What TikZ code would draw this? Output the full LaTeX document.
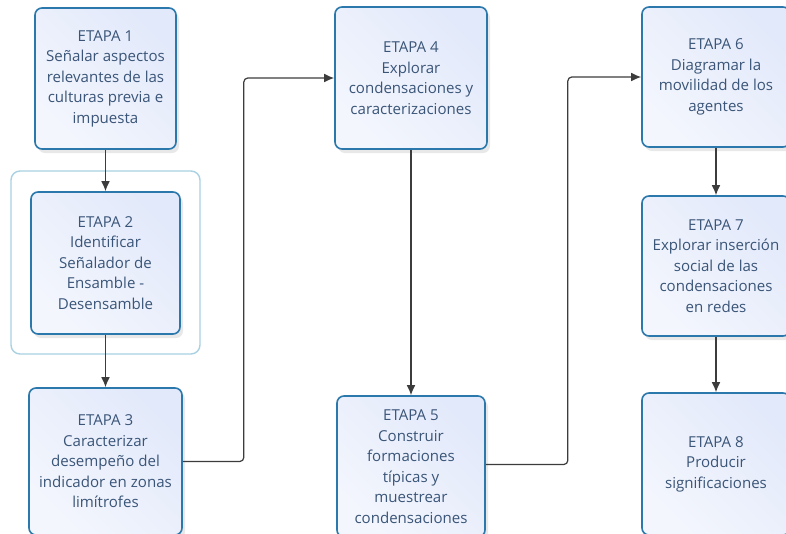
\documentclass[tikz,border=0pt]{standalone}
\usepackage{fontspec}
\setmainfont{Open Sans}
\usepackage{tikz}
\usetikzlibrary{arrows.meta}
\usetikzlibrary{shadows}
\usetikzlibrary{calc}

\newlength\px
\setlength\px{0.75pt}
\definecolor{boxline}{HTML}{2B79AC}
\definecolor{boxfill}{HTML}{E2E9FA}
\definecolor{boxtext}{HTML}{3A5578}
\definecolor{groupline}{HTML}{A9D1E2}
\definecolor{wire}{HTML}{3C3C3C}

\tikzset{
	etapa/.style={draw=boxline, line width=1.6\px, rounded corners=7\px, align=center,
		text=boxtext, font=\fontsize{11.3pt}{15.4pt}\selectfont,
		left color=white!60!boxfill, right color=boxfill, shading angle=135,
		drop shadow={opacity=0.18, shadow xshift=3\px, shadow yshift=-4\px}},
	conn/.style={draw=wire, line width=1.2\px, rounded corners=4\px, -{Latex[length=7.5pt, width=6.6pt]}}
}

\begin{document}
\begin{tikzpicture}[x=0.75pt, y=-0.75pt]
		\useasboundingbox (0,0) rectangle (786,533);
		\fill[white] (0,0) rectangle (786,533);
		
		\draw[groupline, line width=1.4\px, rounded corners=9\px] (11,171) rectangle (200,354);
		
		\node[etapa, minimum width=141\px, minimum height=141\px] (etapa1) at (105.5, 78.5) {ETAPA 1\\Señalar aspectos\\relevantes de las\\culturas previa e\\impuesta};
		\node[etapa, minimum width=149\px, minimum height=142\px] (etapa2) at (105.5, 263) {ETAPA 2\\Identificar\\Señalador de\\Ensamble -\\Desensamble};
		\node[etapa, minimum width=153\px, minimum height=147\px] (etapa3) at (105.5, 461.5) {ETAPA 3\\Caracterizar\\desempeño del\\indicador en zonas\\limítrofes};
		
		\node[etapa, minimum width=152\px, minimum height=142\px] (etapa4) at (411, 78) {ETAPA 4\\Explorar\\condensaciones y\\caracterizaciones};
		\node[etapa, minimum width=148\px, minimum height=141\px] (etapa5) at (411, 466.5) {ETAPA 5\\Construir\\formaciones\\típicas y\\muestrear\\condensaciones};
		
		\node[etapa, minimum width=148\px, minimum height=140\px] (etapa6) at (716, 77) {ETAPA 6\\Diagramar la\\movilidad de los\\agentes};
		\node[etapa, minimum width=148\px, minimum height=140\px] (etapa7) at (716, 266) {ETAPA 7\\Explorar inserción\\social de las\\condensaciones\\en redes};
		\node[etapa, minimum width=148\px, minimum height=142\px] (etapa8) at (716, 464) {ETAPA 8\\Producir\\significaciones};
		
		\draw[conn] (etapa1) -- (etapa2);
		\draw[conn] (etapa2) -- (etapa3);
		\draw[conn] (etapa3.east) -- ++(61, 0) |- (etapa4.west);
		\draw[conn] (etapa4) -- (etapa5);
		\draw[conn] ($(etapa5.east) + (0, -2)$) -- ++(82, 0) |- (etapa6.west);
		\draw[conn] (etapa6) -- (etapa7);
		\draw[conn] (etapa7) -- (etapa8);
		\end{tikzpicture}
\end{document}
